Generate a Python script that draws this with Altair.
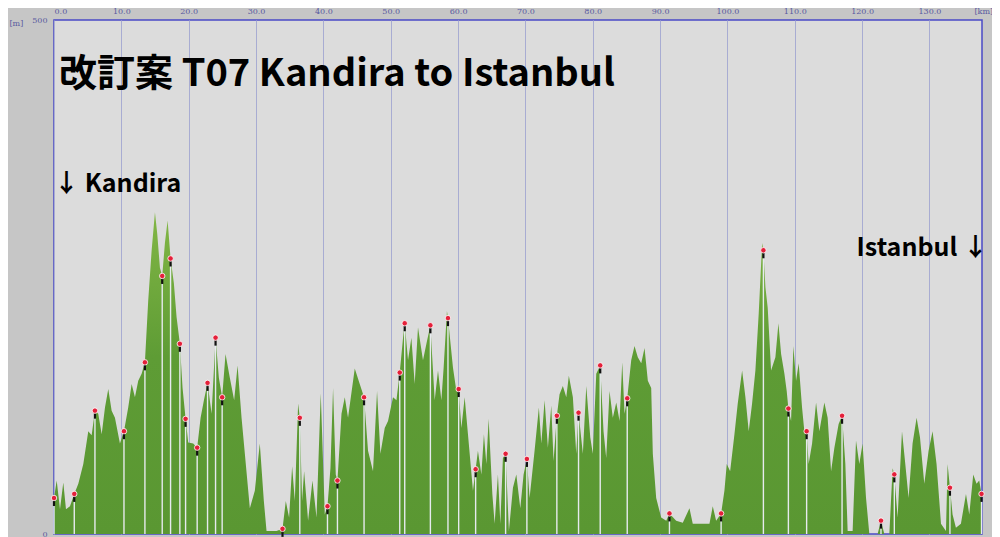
import altair as alt
import pandas as pd

# Elevation profile (distance in km, elevation in m)
dist_km = [0.00, 0.40, 0.89, 1.38, 1.78, 2.37, 3.01, 3.61, 4.35, 5.09, 5.59, 6.08, 6.57, 7.08, 7.57, 8.06, 8.56, 9.05, 9.79,
           10.39, 11.02, 11.53, 12.02, 12.51, 13.01, 13.50, 13.99, 14.50, 14.99, 15.33, 15.73, 16.07, 16.47, 16.87, 17.31,
           17.80, 18.20, 18.69, 19.09, 19.54, 19.93, 20.67, 21.26, 21.77, 22.26, 22.80, 23.40, 23.99, 24.48, 24.97, 25.47,
           26.11, 26.75, 27.26, 27.85, 28.34, 29.08, 29.82, 30.56, 31.16, 31.56, 33.04, 33.93, 34.42, 34.91, 35.36, 35.76,
           36.25, 36.50, 36.84, 37.14, 37.73, 38.38, 38.98, 39.61, 40.21, 40.61, 41.05, 41.44, 41.84, 42.09, 42.69, 43.18,
           43.66, 44.66, 45.40, 46.04, 46.63, 47.37, 47.97, 48.47, 49.11, 49.60, 50.34, 50.85, 51.34, 51.83, 52.08, 52.57,
           53.07, 53.56, 54.05, 54.79, 55.30, 55.89, 56.53, 57.02, 57.52, 57.86, 58.35, 58.50, 59.24, 59.75, 60.09, 60.49,
           60.98, 61.47, 62.21, 62.61, 62.95, 63.46, 63.84, 64.20, 64.54, 65.09, 65.43, 65.92, 66.28, 66.66, 67.06, 67.55,
           68.15, 68.65, 69.24, 69.73, 70.22, 70.62, 71.36, 72.00, 72.36, 72.85, 73.34, 73.84, 74.18, 74.67, 75.07, 75.56,
           76.07, 76.45, 77.05, 77.55, 77.89, 78.53, 79.04, 79.63, 80.01, 80.52, 81.11, 81.60, 82.00, 82.49, 82.98, 83.49,
           83.98, 84.38, 84.72, 85.12, 85.71, 86.20, 86.69, 87.20, 87.69, 88.18, 88.68, 88.92, 89.42, 90.16, 90.91, 91.39,
           92.39, 93.37, 94.36, 94.85, 96.33, 97.33, 97.82, 98.32, 99.06, 99.55, 99.90, 100.40, 101.04, 101.53, 102.18,
           102.67, 103.16, 103.66, 104.15, 104.64, 105.15, 105.34, 105.64, 105.98, 106.48, 107.12, 107.57, 107.97, 108.46,
           108.80, 109.05, 109.45, 109.79, 110.19, 110.58, 111.08, 111.42, 111.76, 112.06, 112.57, 113.16, 113.65, 114.39,
           114.88, 115.39, 115.88, 116.51, 117.02, 117.51, 117.85, 118.59, 119.09, 119.58, 120.07, 120.58, 121.07, 122.30,
           122.80, 123.29, 124.04, 124.53, 124.78, 125.27, 125.92, 126.41, 126.90, 127.49, 128.09, 128.59, 129.23, 129.87,
           130.46, 131.05, 131.71, 132.45, 132.69, 133.04, 133.43, 133.93, 134.67, 135.42, 135.91, 136.50, 136.99, 137.39,
           137.73]
elev_m = [35, 52, 24, 50, 24, 27, 39, 49, 68, 100, 96, 120, 117, 97, 123, 141, 120, 113, 88,
          100, 123, 146, 133, 149, 156, 167, 227, 276, 313, 292, 259, 251, 283, 305, 268,
          244, 211, 185, 142, 112, 89, 88, 84, 113, 130, 147, 117, 191, 152, 133, 175,
          152, 130, 164, 113, 78, 25, 42, 88, 32, 3, 3, 5, 32, 16, 66, 32,
          127, 113, 32, 61, 13, 52, 16, 137, 19, 27, 64, 142, 58, 52, 117, 133,
          113, 161, 146, 133, 81, 61, 139, 78, 103, 110, 133, 130, 157, 191, 205, 169,
          191, 146, 201, 169, 185, 203, 130, 159, 130, 162, 217, 210, 162, 139, 141, 103,
          133, 97, 42, 63, 81, 58, 97, 68, 112, 39, 10, 58, 10, 74, 78, 3,
          45, 58, 25, 58, 73, 35, 81, 123, 88, 130, 84, 125, 71, 115, 136, 144,
          133, 154, 133, 78, 118, 78, 144, 94, 78, 156, 164, 100, 74, 139, 113, 128,
          110, 167, 117, 132, 169, 183, 172, 166, 181, 149, 142, 78, 35, 16, 13, 20,
          13, 11, 25, 10, 10, 10, 27, 13, 20, 42, 68, 61, 97, 127, 159,
          133, 100, 127, 159, 214, 283, 276, 240, 220, 159, 172, 205, 175, 156,
          139, 122, 110, 183, 149, 166, 123, 100, 100, 68, 88, 128, 100, 128,
          113, 61, 84, 107, 115, 68, 3, 3, 91, 68, 88, 35, 0, 0,
          13, 0, 0, 64, 58, 16, 100, 68, 35, 88, 113, 94, 49, 81,
          100, 68, 10, 3, 68, 45, 19, 6, 10, 39, 19, 58, 49, 52,
          39]

# Waypoint markers (distance in km, elevation of pin head in m)
marker_km = [0.00, 3.01, 6.08, 10.39, 13.50, 16.07, 17.31, 18.69, 19.54, 21.26, 22.80, 23.99, 24.97,
             33.93, 36.50, 40.61, 42.09, 46.04, 51.34, 52.08, 55.89, 58.50, 60.09, 62.61,
             67.06, 70.22, 74.67, 77.89, 81.11, 85.12, 91.39, 99.06, 105.34, 109.05, 111.76,
             117.02, 122.80, 124.78, 133.04, 137.73]
marker_m = [35, 39, 120, 100, 167, 251, 268, 185, 112, 84, 147, 191, 133,
            5, 113, 27, 52, 133, 157, 205, 203, 210, 141, 63,
            78, 73, 115, 118, 164, 132, 20, 20, 276, 122, 100,
            115, 13, 58, 45, 39]

x_ticks = [0, 10, 20, 30, 40, 50, 60, 70, 80, 90, 100, 110, 120, 130]
y_ticks = [0, 500]

title_text = "改訂案 T07 Kandira to Istanbul"
start_label = "↓ Kandira"
end_label = "Istanbul ↓"

profile = pd.DataFrame({"km": dist_km, "m": elev_m})
markers = pd.DataFrame({"km": marker_km, "m": marker_m, "zero": [0] * len(marker_km)})

axis_color = "#5a5aa0"
xscale = alt.Scale(domain=[0, 137.8], nice=False, zero=False)
yscale = alt.Scale(domain=[0, 500], nice=False)

x_enc = alt.X(
    "km:Q", scale=xscale,
    axis=alt.Axis(orient="top", values=x_ticks, format=".1f", grid=True, gridColor="#a8acd2",
                  gridWidth=1, ticks=False, domain=False, labelFontSize=8, labelFont="DejaVu Serif",
                  labelColor=axis_color, labelPadding=5, labelFlush=True,
                  title="[km]", titleFontSize=8, titleFont="DejaVu Serif", titleFontWeight="normal",
                  titleColor=axis_color, titleX=920, titleY=-9, titleAlign="left",
                  titleBaseline="middle", titleAngle=0),
)
y_enc = alt.Y(
    "m:Q", scale=yscale,
    axis=alt.Axis(orient="left", values=y_ticks, grid=False, ticks=False, domain=False,
                  labelFontSize=8, labelFont="DejaVu Serif", labelColor=axis_color, labelPadding=7,
                  title="[m]", titleFontSize=8, titleFont="DejaVu Serif", titleFontWeight="normal",
                  titleColor=axis_color, titleX=-45, titleY=3, titleAlign="left",
                  titleBaseline="middle", titleAngle=0),
)

area = alt.Chart(profile).mark_area(
    interpolate="linear",
    color=alt.Gradient(
        gradient="linear",
        stops=[alt.GradientStop(color="#82b645", offset=0),
               alt.GradientStop(color="#5e9c35", offset=0.45),
               alt.GradientStop(color="#5a9732", offset=1)],
        x1=0, x2=0, y1=0, y2=1,
    ),
).encode(x=x_enc, y=y_enc)

white_lines = alt.Chart(markers).mark_rule(color="#e6eaee", strokeWidth=1.4, y2Offset=7).encode(
    x=alt.X("km:Q", scale=xscale), y=alt.Y("zero:Q", scale=yscale), y2="m:Q"
)
stems = alt.Chart(markers).mark_rule(color="#111111", strokeWidth=2.2, yOffset=2, y2Offset=8).encode(
    x=alt.X("km:Q", scale=xscale), y=alt.Y("m:Q", scale=yscale), y2="m:Q"
)
heads = alt.Chart(markers).mark_circle(size=30, color="#e4203a", opacity=1, stroke="#ffffff",
                                       strokeWidth=0.8).encode(
    x=alt.X("km:Q", scale=xscale), y=alt.Y("m:Q", scale=yscale)
)

title = alt.Chart(pd.DataFrame({"t": [title_text]})).mark_text(
    font="Noto Sans CJK JP", fontWeight="bold", fontSize=38, align="left", baseline="alphabetic",
    color="#000000"
).encode(text="t:N", x=alt.value(5), y=alt.value(66))

start_txt = alt.Chart(pd.DataFrame({"t": [start_label]})).mark_text(
    font="Noto Sans CJK JP", fontWeight="bold", fontSize=25, align="left", baseline="alphabetic",
    color="#000000"
).encode(text="t:N", x=alt.value(0), y=alt.value(172))

end_txt = alt.Chart(pd.DataFrame({"t": [end_label]})).mark_text(
    font="Noto Sans CJK JP", fontWeight="bold", fontSize=25, align="right", baseline="alphabetic",
    color="#000000"
).encode(text="t:N", x=alt.value(934), y=alt.value(236))

chart = alt.layer(area, white_lines, stems, heads, title, start_txt, end_txt).properties(
    width=928, height=514,
    autosize=alt.AutoSizeParams(type="none"),
    padding={"left": 46, "top": 12, "right": 10, "bottom": 3},
    background="#c6c6c6",
).configure_view(
    fill="#dcdcdc", stroke="#4a4ac6", strokeWidth=1.5
)

chart.save("out.html", embed_options={"renderer": "svg", "actions": False})
